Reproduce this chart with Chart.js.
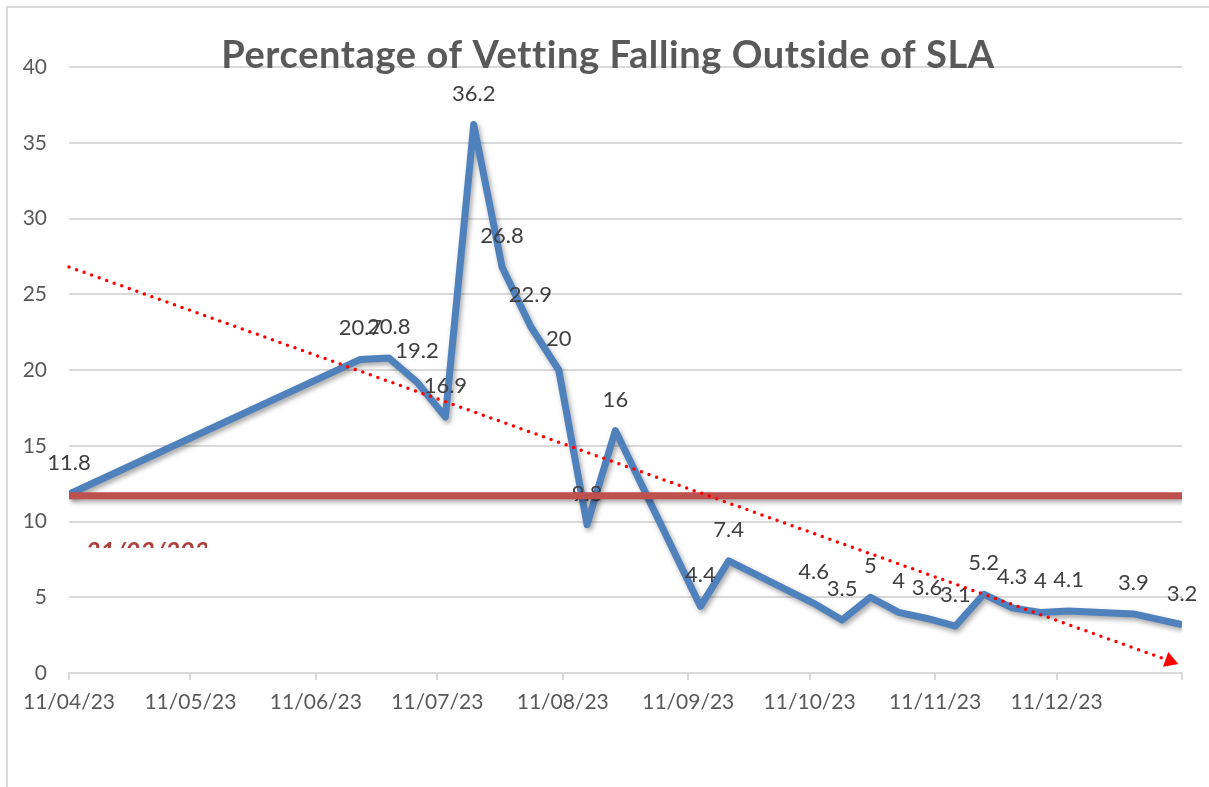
<!DOCTYPE html>
<html>
<head>
<meta charset="utf-8">
<title>Percentage of Vetting Falling Outside of SLA</title>
<script src="https://cdn.jsdelivr.net/npm/chart.js@4.4.1/dist/chart.umd.min.js"></script>
<style>
  html, body { margin: 0; padding: 0; background: #fff; }
  #wrap { position: relative; width: 1209px; height: 787px; }
</style>
</head>
<body>
<div id="wrap"><canvas id="chart"></canvas></div>
<script>
(function () {
  "use strict";

  const TITLE = "Percentage of Vetting Falling Outside of SLA";
  const NOTE = "21/03/2023";

  // days after 11/04/23
  const DAYS = [0, 72, 79, 86, 93, 100, 107, 114, 121, 128, 135, 156, 163,
    184, 191, 198, 205, 212, 219, 226, 233, 240, 247, 263, 275];
  const VALUES = [11.8, 20.7, 20.8, 19.2, 16.9, 36.2, 26.8, 22.9, 20, 9.8, 16, 4.4, 7.4,
    4.6, 3.5, 5, 4, 3.6, 3.1, 5.2, 4.3, 4, 4.1, 3.9, 3.2];

  const SLA_DAYS = [0, 275];
  const SLA_VALUES = [11.7, 11.7];

  const TREND_DAYS = [0, 272];
  const TREND_VALUES = [26.8, 0.8];

  const TICK_DAYS = [0, 30, 61, 91, 122, 153, 183, 214, 244, 275];
  const TICK_LABELS = ["11/04/23", "11/05/23", "11/06/23", "11/07/23", "11/08/23",
    "11/09/23", "11/10/23", "11/11/23", "11/12/23", ""];

  const BLUE = "#4f81bd";
  const SLA_RED = "#c0504d";
  const TREND_RED = "#ff0000";
  const GRID = "#d9d9d9";
  const TEXT = "#595959";
  const FONT = "Lato";

  const toXY = (xs, ys) => xs.map((x, i) => ({ x: x, y: ys[i] }));

  const extras = {
    id: "extras",
    beforeDraw(chart) {
      const ctx = chart.ctx;
      ctx.save();
      ctx.fillStyle = "#fff";
      ctx.fillRect(0, 0, chart.width, chart.height);
      ctx.restore();
    },
    beforeDatasetDraw(chart, args) {
      const ds = chart.data.datasets[args.index];
      if (!ds.shadow) return;
      const ctx = chart.ctx;
      ctx.save();
      ctx.shadowColor = "rgba(0,0,0,0.35)";
      ctx.shadowBlur = 5;
      ctx.shadowOffsetX = 2;
      ctx.shadowOffsetY = 3;
    },
    afterDatasetDraw(chart, args) {
      const ds = chart.data.datasets[args.index];
      const ctx = chart.ctx;
      if (ds.shadow) ctx.restore();
      if (!ds.valueLabels) return;
      const meta = chart.getDatasetMeta(args.index);
      ctx.save();
      ctx.font = "22px " + FONT;
      ctx.fillStyle = "#404040";
      ctx.textAlign = "center";
      ctx.textBaseline = "middle";
      meta.data.forEach((pt, i) => {
        ctx.fillText(String(ds.data[i].y), pt.x, pt.y - 31);
      });
      ctx.restore();
    },
    afterDraw(chart) {
      const ctx = chart.ctx;
      ctx.save();
      // outer frame (left + top)
      ctx.strokeStyle = GRID;
      ctx.lineWidth = 2;
      ctx.beginPath();
      ctx.moveTo(7, chart.height);
      ctx.lineTo(7, 7);
      ctx.lineTo(chart.width, 7);
      ctx.stroke();

      ctx.font = "bold 38px " + FONT;
      ctx.letterSpacing = "0.6px";
      ctx.fillStyle = TEXT;
      ctx.textAlign = "center";
      ctx.textBaseline = "alphabetic";
      ctx.fillText(TITLE, 608, 68);
      ctx.letterSpacing = "0px";

      // half-hidden date box
      ctx.beginPath();
      ctx.rect(80, 530, 127, 18);
      ctx.clip();
      ctx.font = "italic bold 25px " + FONT;
      ctx.fillStyle = "#b0403e";
      ctx.textAlign = "left";
      ctx.fillText(NOTE, 86, 560);
      ctx.restore();
    }
  };

  new Chart(document.getElementById("chart"), {
    type: "line",
    data: {
      datasets: [
        {
          label: "Trend",
          data: toXY(TREND_DAYS, TREND_VALUES),
          borderColor: TREND_RED,
          borderWidth: 3.5,
          borderDash: [0, 8],
          borderCapStyle: "round",
          pointStyle: "triangle",
          pointRadius: [0, 9],
          pointRotation: 109.7,
          pointBackgroundColor: TREND_RED,
          pointBorderWidth: 0,
          clip: false,
          order: 0
        },
        {
          label: "SLA",
          data: toXY(SLA_DAYS, SLA_VALUES),
          borderColor: SLA_RED,
          borderWidth: 7,
          pointRadius: 0,
          shadow: true,
          order: 1
        },
        {
          label: "Outside SLA %",
          data: toXY(DAYS, VALUES),
          borderColor: BLUE,
          borderWidth: 7,
          borderJoinStyle: "round",
          tension: 0,
          pointRadius: 0,
          shadow: true,
          valueLabels: true,
          order: 2
        }
      ]
    },
    options: {
      responsive: true,
      maintainAspectRatio: false,
      animation: false,
      devicePixelRatio: 1,
      layout: { padding: { top: 67, right: 27, left: 0, bottom: 0 } },
      plugins: {
        legend: { display: false },
        tooltip: { enabled: false },
        title: { display: false }
      },
      scales: {
        x: {
          type: "linear",
          min: 0,
          max: 275,
          afterBuildTicks: (axis) => {
            axis.ticks = TICK_DAYS.map((v) => ({ value: v }));
          },
          afterFit: (scale) => { scale.height = 114; },
          grid: { drawOnChartArea: false, drawTicks: true, tickLength: 7, color: GRID, lineWidth: 2 },
          border: { display: true, color: GRID, width: 2 },
          ticks: {
            autoSkip: false,
            maxRotation: 0,
            padding: 10,
            color: TEXT,
            font: { family: FONT, size: 21 },
            callback: (v) => {
              const i = TICK_DAYS.indexOf(v);
              return i >= 0 ? TICK_LABELS[i] : "";
            }
          }
        },
        y: {
          min: 0,
          max: 40,
          afterFit: (scale) => { scale.width = 69; },
          grid: { drawTicks: false, color: GRID, lineWidth: 2 },
          border: { display: false },
          ticks: {
            stepSize: 5,
            padding: 22,
            color: TEXT,
            font: { family: FONT, size: 21 }
          }
        }
      }
    },
    plugins: [extras]
  });
})();
</script>
</body>
</html>
